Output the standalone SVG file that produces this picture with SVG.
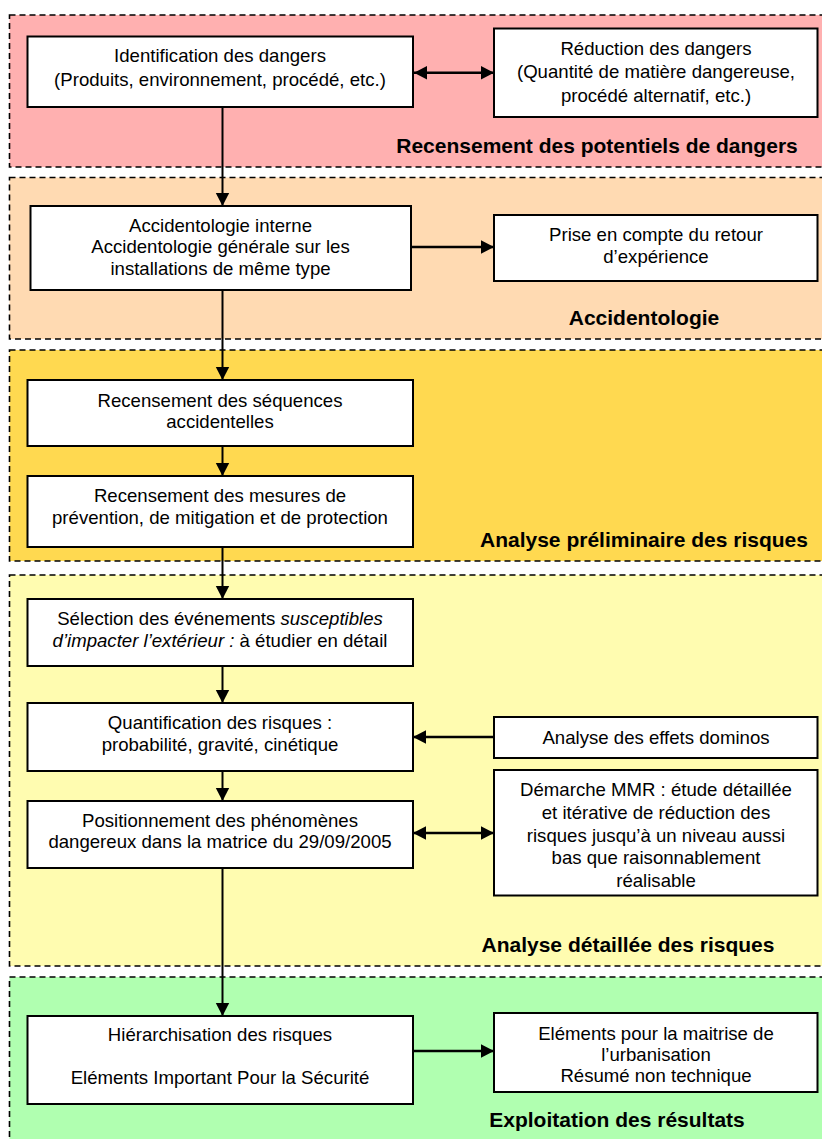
<svg xmlns="http://www.w3.org/2000/svg" width="822" height="1139" viewBox="0 0 822 1139">
<style>
.sec{stroke:#000;stroke-width:1.6;stroke-dasharray:6 4}
.box{fill:#fff;stroke:#000;stroke-width:2}
.t{font-family:"Liberation Sans",Arial,sans-serif;font-size:18.6px;fill:#000;text-anchor:middle}
.lbl{font-family:"Liberation Sans",Arial,sans-serif;font-size:21px;font-weight:bold;fill:#000;text-anchor:middle}
.c{stroke:#000;stroke-width:2;fill:none}
.h{stroke-width:2.4}
</style>
<defs>
<marker id="ah" markerUnits="userSpaceOnUse" markerWidth="15" markerHeight="15" viewBox="0 0 15 15" refX="14" refY="7.5" orient="auto-start-reverse">
<path d="M1,0.8 L14,7.5 L1,14.2 Z" fill="#000"/>
</marker>
</defs>
<g id="sections">
<rect id="sec1" class="sec" x="9.5" y="15" width="830" height="152" fill="#FFB0B0"/>
<rect id="sec2" class="sec" x="9.5" y="177.5" width="830" height="161.5" fill="#FFDAB2"/>
<rect id="sec3" class="sec" x="9.5" y="350" width="830" height="211" fill="#FFD950"/>
<rect id="sec4" class="sec" x="9.5" y="575" width="830" height="391" fill="#FFFCB0"/>
<rect id="sec5" class="sec" x="9.5" y="977" width="830" height="180" fill="#B0FFB0"/>
<text class="lbl" x="597" y="153">Recensement des potentiels de dangers</text>
<text class="lbl" x="644" y="325">Accidentologie</text>
<text class="lbl" x="644" y="547">Analyse préliminaire des risques</text>
<text class="lbl" x="628" y="952">Analyse détaillée des risques</text>
<text class="lbl" x="617" y="1127">Exploitation des résultats</text>
</g>
<g id="connectors">
<line class="c" x1="222.5" y1="107" x2="222.5" y2="206" marker-end="url(#ah)"/>
<line class="c" x1="222.5" y1="290" x2="222.5" y2="380" marker-end="url(#ah)"/>
<line class="c" x1="222.5" y1="446" x2="222.5" y2="476" marker-end="url(#ah)"/>
<line class="c" x1="222.5" y1="547" x2="222.5" y2="599" marker-end="url(#ah)"/>
<line class="c" x1="222.5" y1="666" x2="222.5" y2="703" marker-end="url(#ah)"/>
<line class="c" x1="222.5" y1="771" x2="222.5" y2="801" marker-end="url(#ah)"/>
<line class="c" x1="222.5" y1="868" x2="222.5" y2="1016" marker-end="url(#ah)"/>
<line class="c h" x1="414" y1="72.7" x2="494" y2="72.7" marker-start="url(#ah)" marker-end="url(#ah)"/>
<line class="c h" x1="411" y1="247" x2="494" y2="247" marker-end="url(#ah)"/>
<line class="c h" x1="494" y1="737" x2="413" y2="737" marker-end="url(#ah)"/>
<line class="c h" x1="413" y1="833" x2="494" y2="833" marker-start="url(#ah)" marker-end="url(#ah)"/>
<line class="c h" x1="413" y1="1051" x2="494" y2="1051" marker-end="url(#ah)"/>
</g>
<g id="nA">
<rect class="box" x="27.5" y="36.5" width="385.5" height="70.5"/>
<text class="t" x="220" y="61.5">Identification des dangers</text>
<text class="t" x="220" y="85.5">(Produits, environnement, procédé, etc.)</text>
</g>
<g id="nB">
<rect class="box" x="494" y="28.5" width="323.5" height="88.5"/>
<text class="t" x="656" y="55">Réduction des dangers</text>
<text class="t" x="656" y="78.3">(Quantité de matière dangereuse,</text>
<text class="t" x="656" y="101.5">procédé alternatif, etc.)</text>
</g>
<g id="nC">
<rect class="box" x="30.5" y="206" width="380.5" height="84"/>
<text class="t" x="220.5" y="231.7">Accidentologie interne</text>
<text class="t" x="220.5" y="253.3">Accidentologie générale sur les</text>
<text class="t" x="220.5" y="275">installations de même type</text>
</g>
<g id="nD">
<rect class="box" x="494" y="215" width="323.5" height="66"/>
<text class="t" x="656" y="241">Prise en compte du retour</text>
<text class="t" x="656" y="263">d’expérience</text>
</g>
<g id="nE">
<rect class="box" x="27.5" y="380" width="385.5" height="66"/>
<text class="t" x="220" y="406.5">Recensement des séquences</text>
<text class="t" x="220" y="428">accidentelles</text>
</g>
<g id="nF">
<rect class="box" x="27.5" y="476" width="385.5" height="71"/>
<text class="t" x="220" y="502">Recensement des mesures de</text>
<text class="t" x="220" y="524">prévention, de mitigation et de protection</text>
</g>
<g id="nG">
<rect class="box" x="27.5" y="599" width="385.5" height="67"/>
<text class="t" x="220" y="625">Sélection des événements <tspan font-style="italic">susceptibles</tspan></text>
<text class="t" x="220" y="647"><tspan font-style="italic">d’impacter l’extérieur :</tspan> à étudier en détail</text>
</g>
<g id="nH">
<rect class="box" x="27.5" y="703" width="385.5" height="68"/>
<text class="t" x="220" y="729">Quantification des risques :</text>
<text class="t" x="220" y="751">probabilité, gravité, cinétique</text>
</g>
<g id="nI">
<rect class="box" x="494" y="717" width="323.5" height="41"/>
<text class="t" x="656" y="744">Analyse des effets dominos</text>
</g>
<g id="nJ">
<rect class="box" x="494" y="770" width="323.5" height="125.5"/>
<text class="t" x="656" y="796">Démarche MMR : étude détaillée</text>
<text class="t" x="656" y="819">et itérative de réduction des</text>
<text class="t" x="656" y="841.5">risques jusqu’à un niveau aussi</text>
<text class="t" x="656" y="864">bas que raisonnablement</text>
<text class="t" x="656" y="886.5">réalisable</text>
</g>
<g id="nK">
<rect class="box" x="27.5" y="801" width="385.5" height="67"/>
<text class="t" x="220" y="826.5">Positionnement des phénomènes</text>
<text class="t" x="220" y="848">dangereux dans la matrice du 29/09/2005</text>
</g>
<g id="nL">
<rect class="box" x="27.5" y="1016" width="385.5" height="88"/>
<text class="t" x="220" y="1041">Hiérarchisation des risques</text>
<text class="t" x="220" y="1084">Eléments Important Pour la Sécurité</text>
</g>
<g id="nM">
<rect class="box" x="494" y="1013" width="323.5" height="79"/>
<text class="t" x="656" y="1039.5">Eléments pour la maitrise de</text>
<text class="t" x="656" y="1060.7">l’urbanisation</text>
<text class="t" x="656" y="1081.7">Résumé non technique</text>
</g>
</svg>
